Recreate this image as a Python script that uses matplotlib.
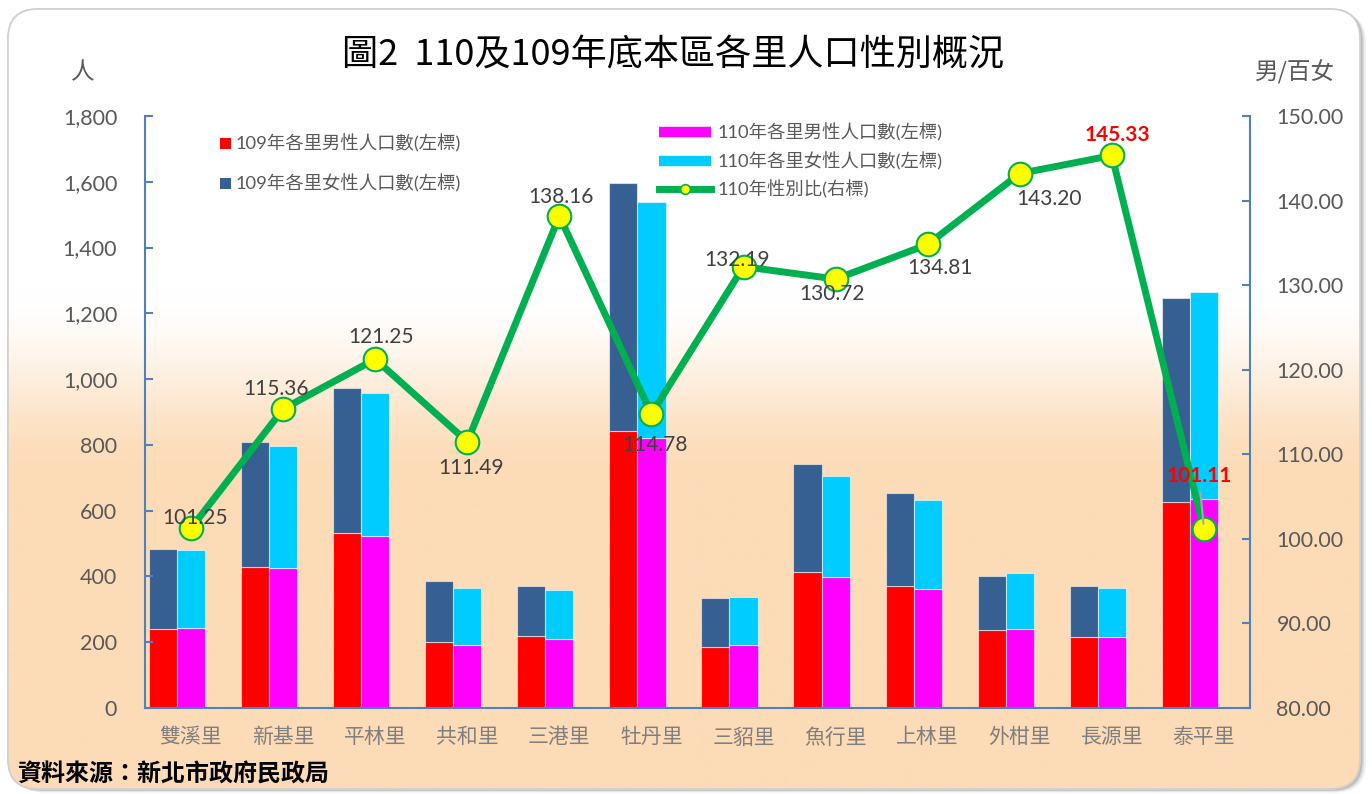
import numpy as np
import matplotlib
matplotlib.use('Agg')
import matplotlib.pyplot as plt
from matplotlib.patches import FancyBboxPatch, Patch
from matplotlib.lines import Line2D
from matplotlib.ticker import FuncFormatter

plt.rcParams['font.family'] = ['Lato', 'Noto Sans CJK TC', 'DejaVu Sans']

# ---------------- data ----------------
categories = ['雙溪里', '新基里', '平林里', '共和里', '三港里', '牡丹里',
              '三貂里', '魚行里', '上林里', '外柑里', '長源里', '泰平里']
male_109 = [239, 429, 531, 202, 219, 842, 184, 414, 372, 238, 215, 627]
female_109 = [243, 379, 442, 184, 152, 754, 151, 327, 281, 164, 157, 620]
male_110 = [242, 427, 524, 192, 209, 822, 192, 399, 363, 241, 217, 636]
female_110 = [239, 370, 433, 173, 151, 716, 145, 305, 269, 168, 149, 629]
sex_ratio_110 = [101.25, 115.36, 121.25, 111.49, 138.16, 114.78,
                 132.19, 130.72, 134.81, 143.20, 145.33, 101.11]
left_ticks = [0, 200, 400, 600, 800, 1000, 1200, 1400, 1600, 1800]
right_ticks = [80, 90, 100, 110, 120, 130, 140, 150]

# label offsets (pixels) relative to point, and highlight flags
label_offsets = [(4, 10), (-7, 20), (6, 22), (4, -26), (2, 19), (3, -31),
                 (-7, 7), (-4, -15), (12, -24), (29, -25), (6, 20), (-5, 53)]
highlight = [False] * 10 + [True, True]

W, H = 1372, 794
fig = plt.figure(figsize=(W / 100, H / 100), dpi=100)

# ---------------- background panel ----------------
bg = fig.add_axes([0, 0, 1, 1])
bg.set_xlim(0, W)
bg.set_ylim(H, 0)
bg.axis('off')

px0, py0, pw, ph = 8, 9, 1352, 780
for off, a in [(6, 0.10), (4, 0.18), (2.5, 0.28)]:
    sh = FancyBboxPatch((px0 + off, py0 + off * 0.6), pw, ph,
                        boxstyle='round,pad=0,rounding_size=30',
                        fc='#707070', ec='none', alpha=a)
    bg.add_patch(sh)
panel = FancyBboxPatch((px0, py0), pw, ph,
                       boxstyle='round,pad=0,rounding_size=30',
                       fc='white', ec='#d0d0d0', lw=1.2)
bg.add_patch(panel)

ys = np.linspace(py0, py0 + ph, 400)
t = np.clip((ys - 290) / 190.0, 0, 1)
t = t * t * (3 - 2 * t)
top_c = np.array([1.0, 1.0, 1.0])
bot_c = np.array([252, 219, 183]) / 255.0
grad = (top_c[None, :] * (1 - t[:, None]) + bot_c[None, :] * t[:, None])[:, None, :]
im = bg.imshow(grad, extent=[px0, px0 + pw, py0 + ph, py0], aspect='auto',
               origin='upper', zorder=1)
im.set_clip_path(panel)
border = FancyBboxPatch((px0, py0), pw, ph,
                        boxstyle='round,pad=0,rounding_size=30',
                        fc='none', ec='#cfcfcf', lw=1.2, zorder=2)
bg.add_patch(border)

# ---------------- main axes ----------------
axL, axR, axB, axT = 145, 1250, 708, 116
ax = fig.add_axes([axL / W, 1 - axB / H, (axR - axL) / W, (axB - axT) / H])
ax.patch.set_alpha(0)

x = np.arange(len(categories))
bw = 0.305
edge = (1, 1, 1, 0.55)
ax.bar(x - bw, male_109, bw, color='#FF0000', edgecolor=edge, linewidth=0.8)
ax.bar(x - bw, female_109, bw, bottom=male_109, color='#376092', edgecolor=edge, linewidth=0.8)
ax.bar(x, male_110, bw, color='#FF00FF', edgecolor=edge, linewidth=0.8)
ax.bar(x, female_110, bw, bottom=male_110, color='#00CCFF', edgecolor=edge, linewidth=0.8)

ax.set_xlim(-0.5, len(categories) - 0.5)
ax.set_ylim(0, 1800)
ax.set_yticks(left_ticks)
ax.yaxis.set_major_formatter(FuncFormatter(lambda v, p: f'{v:,.0f}'))
ax.set_xticks(x)
ax.set_xticklabels(categories)

spine_c = '#4F81BD'
for s in ['top', 'right']:
    ax.spines[s].set_visible(False)
ax.spines['left'].set_color(spine_c)
ax.spines['bottom'].set_color(spine_c)
ax.spines['left'].set_linewidth(1.5)
ax.spines['bottom'].set_linewidth(1.5)
ax.tick_params(axis='y', direction='in', length=6, width=1.5, color=spine_c,
               labelsize=15.5, labelcolor='#595959', pad=20)
ax.tick_params(axis='x', length=0, labelsize=15, labelcolor='#7f7f7f', pad=14)

ax2 = ax.twinx()
ax2.patch.set_alpha(0)
ax2.set_ylim(80, 150)
ax2.set_yticks(right_ticks)
ax2.yaxis.set_major_formatter(FuncFormatter(lambda v, p: f'{v:.2f}'))
for s in ['top', 'left', 'bottom']:
    ax2.spines[s].set_visible(False)
ax2.spines['right'].set_color(spine_c)
ax2.spines['right'].set_linewidth(1.5)
ax2.tick_params(axis='y', direction='in', length=6, width=1.5, color=spine_c,
                labelsize=15.5, labelcolor='#595959', pad=19)

ax2.plot(x, sex_ratio_110, color='#00B050', lw=5, marker='o', ms=17,
         mfc='#FFFF00', mec='#00B050', mew=1.5, zorder=5)

for xi, v, (dx, dy), hl in zip(x, sex_ratio_110, label_offsets, highlight):
    kw = dict(ha='center', va='center', fontsize=15, zorder=6,
              textcoords='offset pixels', xytext=(dx, dy))
    if hl:
        kw.update(color='#FF0000', fontweight='bold')
    else:
        kw.update(color='#404040')
    if dy > 40:
        kw['arrowprops'] = dict(arrowstyle='-', color='#a6a6a6', lw=1.5,
                                shrinkA=2, shrinkB=4)
    ax2.annotate(f'{v:.2f}', (xi, v), **kw)

# ---------------- texts ----------------
fig.text(673 / W, 1 - 55 / H, '圖2  110及109年底本區各里人口性別概況',
         ha='center', va='center', fontsize=26, color='black',
         family=['Noto Sans CJK TC', 'DejaVu Sans'])
fig.text(83 / W, 1 - 73 / H, '人', ha='center', va='center', fontsize=17,
         color='#595959', family=['Noto Sans CJK TC', 'DejaVu Sans'])
fig.text(1295 / W, 1 - 72 / H, '男/百女', ha='center', va='center', fontsize=17,
         color='#595959', family=['Noto Sans CJK TC', 'DejaVu Sans'])
fig.text(17 / W, 1 - 775 / H, '資料來源：新北市政府民政局', ha='left', va='center',
         fontsize=17.3, color='black', fontweight='bold',
         family=['Noto Sans CJK TC', 'DejaVu Sans'])

# ---------------- legends ----------------
h1 = [Patch(facecolor='#FF0000', edgecolor='none'),
      Patch(facecolor='#376092', edgecolor='none')]
l1 = ['109年各里男性人口數(左標)', '109年各里女性人口數(左標)']
leg1 = fig.legend(h1, l1, loc='upper left', bbox_to_anchor=(203 / W, 1 - 118 / H),
                  frameon=False, fontsize=13.2, handlelength=0.6, handleheight=0.6,
                  handletextpad=0.27, labelspacing=1.18, labelcolor='#595959')

h2 = [Line2D([], [], color='#FF00FF', lw=7.5, solid_capstyle='butt'),
      Line2D([], [], color='#00CCFF', lw=7.5, solid_capstyle='butt'),
      Line2D([], [], color='#00B050', lw=5, marker='o', ms=7,
             mfc='#FFFF00', mec='#00B050', mew=1.2)]
l2 = ['110年各里男性人口數(左標)', '110年各里女性人口數(左標)', '110年性別比(右標)']
leg2 = fig.legend(h2, l2, loc='upper left', bbox_to_anchor=(642 / W, 1 - 107 / H),
                  frameon=False, fontsize=13.2, handlelength=2.85,
                  handletextpad=0.38, labelspacing=0.55, labelcolor='#595959',
                  numpoints=1)

fig.savefig('out.png', dpi=100)
